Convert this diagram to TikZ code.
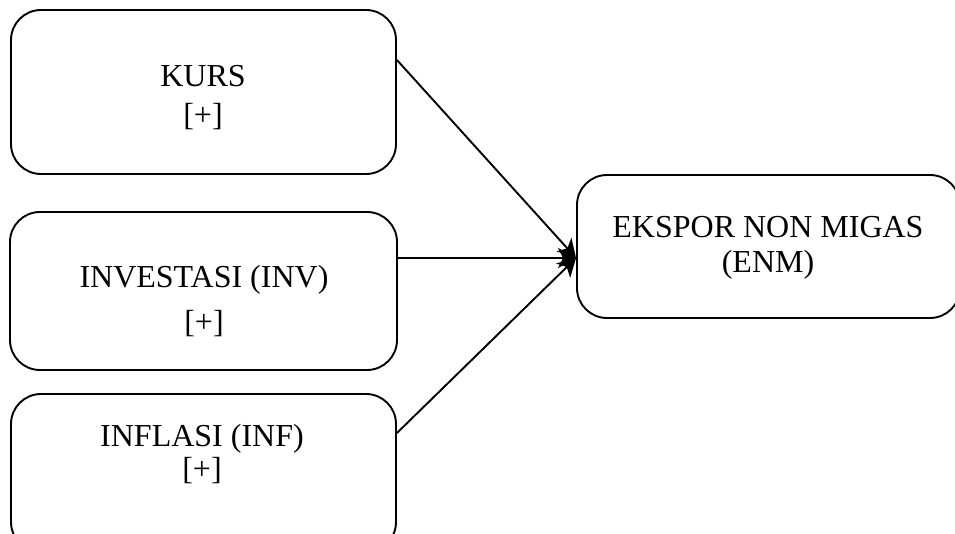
\documentclass[tikz,border=0pt]{standalone}
\usepackage{fontspec}
\setmainfont{Liberation Serif}
\usetikzlibrary{arrows.meta}

\begin{document}
\begin{tikzpicture}[x=1pt,y=-1pt,
		kotak/.style={draw, line width=1.9pt, rounded corners=30pt, inner sep=0pt},
		teks/.style={align=center, font=\fontsize{32}{38}\selectfont},
		panah/.style={line width=1.9pt, -{Stealth[length=18pt,width=20pt,inset=5pt]}}]
			\useasboundingbox (0,0) rectangle (955,534);
			\node[kotak, minimum width=385pt, minimum height=164pt] (kurs) at (203.5,92) {};
			\node[kotak, minimum width=387pt, minimum height=158pt] (inv) at (203.5,291) {};
			\node[kotak, minimum width=385pt, minimum height=158pt] (inf) at (203.5,473) {};
			\node[kotak, minimum width=383pt, minimum height=143pt] (enm) at (768.5,246.5) {};
			\node[teks] (kursT) at (203,98) {KURS\\[1pt][+]};
			\node[teks] (invT) at (204,301) {INVESTASI (INV)\\[7pt][+]};
			\node[teks] (infT) at (202,454) {INFLASI (INF)\\[-5pt][+]};
			\node[teks] (enmT) at (768,248) {EKSPOR NON MIGAS\\[-3pt](ENM)};
			\coordinate (T) at (enm.west |- 0,258);
			\draw[panah] (kurs.east |- 0,60) -- (T);
			\draw[panah] (inv.east |- 0,258) -- (T);
			\draw[panah] (inf.east |- 0,433) -- (T);
		\end{tikzpicture}
\end{document}
